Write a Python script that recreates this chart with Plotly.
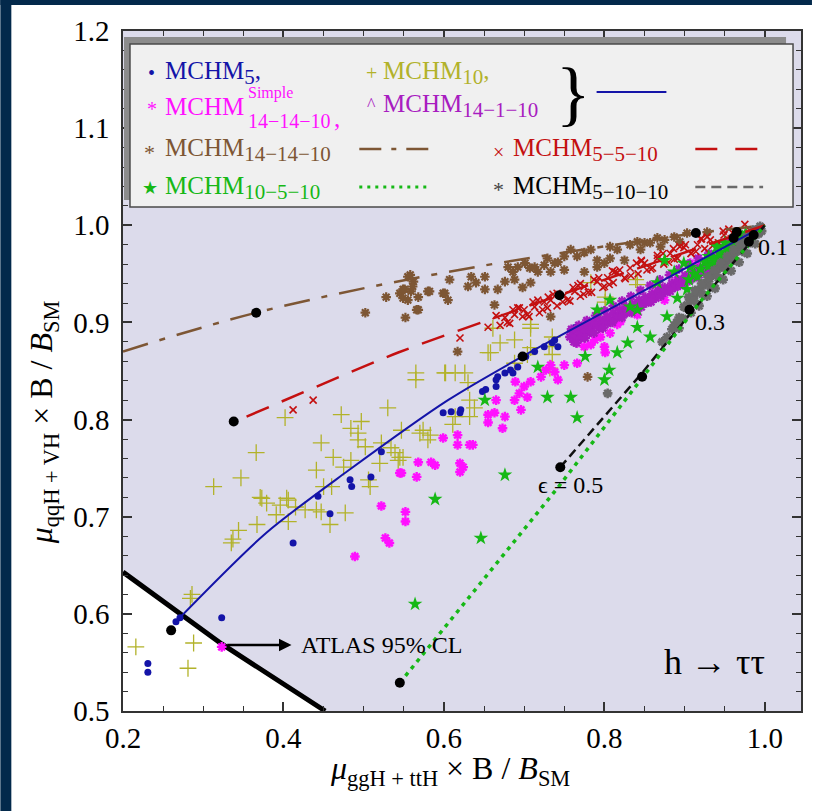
import plotly.graph_objects as go

# ---------------- data ----------------
atlas_x = [0.2, 0.323, 0.452]
atlas_y = [0.643, 0.569, 0.5]

mchm10_x = [0.216, 0.288, 0.281, 0.284, 0.286, 0.313, 0.335, 0.337, 0.344, 0.347, 0.366, 0.367, 0.371, 0.373,
            0.379, 0.391, 0.396, 0.402, 0.404, 0.406, 0.406, 0.415, 0.427, 0.441, 0.441, 0.447, 0.447, 0.450,
            0.458, 0.460, 0.462, 0.472, 0.475, 0.477, 0.484, 0.484, 0.493, 0.493, 0.497, 0.502, 0.506, 0.508,
            0.520, 0.522, 0.530, 0.534, 0.539, 0.543, 0.545, 0.547, 0.549, 0.565, 0.565, 0.570, 0.574, 0.580,
            0.583, 0.601, 0.602, 0.611, 0.614, 0.614, 0.626, 0.630, 0.632, 0.632, 0.638, 0.655, 0.658, 0.661,
            0.670, 0.688, 0.688, 0.704, 0.708, 0.708, 0.708, 0.731, 0.732, 0.735, 0.735, 0.783, 0.801, 0.801,
            0.839, 0.841]
mchm10_y = [0.566, 0.570, 0.544, 0.616, 0.620, 0.731, 0.673, 0.677, 0.686, 0.740, 0.766, 0.692, 0.720, 0.719,
            0.714, 0.702, 0.712, 0.802, 0.719, 0.717, 0.695, 0.710, 0.707, 0.707, 0.748, 0.705, 0.776, 0.731,
            0.692, 0.731, 0.761, 0.805, 0.751, 0.704, 0.758, 0.791, 0.786, 0.779, 0.798, 0.772, 0.738, 0.731,
            0.755, 0.776, 0.812, 0.771, 0.766, 0.758, 0.761, 0.789, 0.761, 0.848, 0.841, 0.786, 0.789, 0.779,
            0.784, 0.848, 0.848, 0.795, 0.848, 0.803, 0.848, 0.838, 0.820, 0.803, 0.812, 0.869, 0.869, 0.894,
            0.879, 0.882, 0.858, 0.867, 0.898, 0.894, 0.874, 0.875, 0.853, 0.885, 0.867, 0.941, 0.926, 0.921,
            0.944, 0.939]

mchm5_x = [0.231, 0.231, 0.266, 0.271, 0.323, 0.412, 0.443, 0.458, 0.483, 0.485, 0.509, 0.522, 0.599, 0.609,
           0.620, 0.621, 0.648, 0.652, 0.665, 0.665, 0.667, 0.676, 0.683, 0.686, 0.692, 0.702, 0.713, 0.725,
           0.735, 0.738, 0.742, 0.758, 0.758, 0.764]
mchm5_y = [0.549, 0.540, 0.592, 0.596, 0.596, 0.673, 0.721, 0.703, 0.738, 0.731, 0.741, 0.767, 0.807, 0.808,
           0.807, 0.810, 0.829, 0.831, 0.834, 0.841, 0.844, 0.848, 0.851, 0.848, 0.854, 0.865, 0.870, 0.875,
           0.879, 0.882, 0.875, 0.885, 0.892, 0.895]

simple_x = [0.323, 0.489, 0.522, 0.527, 0.532, 0.545, 0.547, 0.552, 0.552, 0.566, 0.568, 0.584, 0.589, 0.599,
            0.617, 0.617, 0.620, 0.624, 0.620, 0.632, 0.636, 0.655, 0.663, 0.655, 0.676, 0.673, 0.665, 0.688,
            0.694, 0.700, 0.704, 0.696, 0.689, 0.708, 0.721, 0.727, 0.733, 0.738, 0.742, 0.750, 0.766, 0.766,
            0.775, 0.783, 0.788, 0.795, 0.800, 0.801, 0.807, 0.816, 0.820, 0.841, 0.857, 0.863, 0.870, 0.875,
            0.891, 0.903, 0.901, 0.907, 0.916, 0.940]
simple_y = [0.566, 0.659, 0.711, 0.678, 0.673, 0.745, 0.745, 0.705, 0.695, 0.741, 0.756, 0.756, 0.753, 0.781,
            0.784, 0.774, 0.755, 0.751, 0.746, 0.774, 0.774, 0.805, 0.807, 0.797, 0.803, 0.791, 0.820, 0.820,
            0.827, 0.834, 0.823, 0.810, 0.839, 0.839, 0.844, 0.851, 0.856, 0.849, 0.841, 0.856, 0.858, 0.879,
            0.875, 0.877, 0.882, 0.885, 0.875, 0.869, 0.889, 0.898, 0.901, 0.908, 0.923, 0.930, 0.934, 0.923,
            0.944, 0.944, 0.947, 0.961, 0.959, 0.968]

m14110_x = [0.757, 0.760, 0.763, 0.766, 0.770, 0.773, 0.776, 0.780, 0.784, 0.787, 0.791, 0.795, 0.799, 0.803,
            0.807, 0.811, 0.815, 0.819, 0.823, 0.827, 0.831, 0.835, 0.839, 0.843, 0.847, 0.851, 0.855, 0.859,
            0.863, 0.867, 0.871, 0.875, 0.879, 0.884, 0.888, 0.892, 0.897, 0.901, 0.906, 0.910, 0.915, 0.919,
            0.924, 0.929, 0.934, 0.939, 0.944, 0.949, 0.955, 0.961,
            0.762, 0.771, 0.782, 0.793, 0.804, 0.816, 0.828, 0.840, 0.852, 0.864, 0.876, 0.888, 0.900, 0.912,
            0.925, 0.938,
            0.759, 0.768, 0.778, 0.789, 0.800, 0.811, 0.822, 0.833, 0.845, 0.857, 0.869, 0.881, 0.893, 0.905,
            0.917, 0.930, 0.943, 0.956, 0.966,
            0.765, 0.776, 0.787, 0.798, 0.810, 0.822, 0.834, 0.846, 0.858, 0.870, 0.882, 0.894, 0.906, 0.918,
            0.930, 0.942]
m14110_y = [0.885, 0.890, 0.884, 0.892, 0.889, 0.895, 0.891, 0.897, 0.894, 0.900, 0.897, 0.903, 0.900, 0.906,
            0.903, 0.910, 0.906, 0.913, 0.910, 0.916, 0.913, 0.919, 0.917, 0.923, 0.920, 0.926, 0.924, 0.929,
            0.927, 0.933, 0.930, 0.936, 0.934, 0.940, 0.937, 0.944, 0.941, 0.948, 0.945, 0.952, 0.950, 0.956,
            0.955, 0.960, 0.959, 0.965, 0.964, 0.970, 0.972, 0.978,
            0.880, 0.884, 0.890, 0.894, 0.899, 0.905, 0.910, 0.915, 0.920, 0.925, 0.931, 0.936, 0.941, 0.946,
            0.952, 0.958,
            0.893, 0.897, 0.902, 0.907, 0.912, 0.917, 0.922, 0.927, 0.933, 0.938, 0.944, 0.949, 0.955, 0.960,
            0.966, 0.971, 0.977, 0.983, 0.987,
            0.879, 0.884, 0.889, 0.894, 0.900, 0.905, 0.910, 0.916, 0.921, 0.927, 0.932, 0.938, 0.943, 0.949,
            0.954, 0.960]

m141410_x = [0.502, 0.528, 0.545, 0.549, 0.549, 0.555, 0.559, 0.562, 0.558, 0.568, 0.552, 0.580, 0.599, 0.555,
             0.561, 0.551, 0.568, 0.566, 0.582, 0.601, 0.605, 0.607, 0.630, 0.634, 0.640, 0.651, 0.651, 0.663,
             0.680, 0.686, 0.688, 0.692, 0.701, 0.707, 0.713, 0.717, 0.725, 0.729, 0.738, 0.742, 0.750, 0.758,
             0.766, 0.775, 0.783, 0.791, 0.800, 0.807, 0.807, 0.816, 0.832, 0.841, 0.850, 0.857, 0.866, 0.875,
             0.887, 0.903, 0.928, 0.733, 0.779, 0.667, 0.676, 0.698, 0.708, 0.733, 0.750, 0.775, 0.791, 0.825,
             0.845, 0.870, 0.894, 0.617]
m141410_y = [0.910, 0.926, 0.930, 0.934, 0.925, 0.923, 0.932, 0.942, 0.949, 0.913, 0.905, 0.932, 0.930, 0.947,
             0.937, 0.934, 0.926, 0.913, 0.932, 0.930, 0.923, 0.944, 0.937, 0.947, 0.941, 0.947, 0.934, 0.918,
             0.957, 0.952, 0.944, 0.957, 0.961, 0.956, 0.957, 0.952, 0.959, 0.966, 0.961, 0.962, 0.968, 0.975,
             0.968, 0.972, 0.975, 0.964, 0.961, 0.966, 0.978, 0.975, 0.980, 0.983, 0.982, 0.982, 0.987, 0.985,
             0.988, 0.992, 0.993, 0.906, 0.844, 0.934, 0.942, 0.936, 0.941, 0.952, 0.954, 0.952, 0.957, 0.964,
             0.975, 0.978, 0.983, 0.870]

m5510_x = [0.412, 0.437, 0.620, 0.655, 0.676, 0.688, 0.700, 0.713, 0.725, 0.733, 0.750, 0.763, 0.775, 0.791,
           0.804, 0.816, 0.832, 0.850, 0.866, 0.882, 0.899, 0.916, 0.932, 0.949, 0.682, 0.706, 0.719, 0.741,
           0.757, 0.770, 0.784, 0.798, 0.811, 0.825, 0.842, 0.858, 0.874, 0.891, 0.908, 0.925, 0.941, 0.958,
           0.694, 0.730, 0.770, 0.810, 0.846, 0.886, 0.920, 0.966,
           0.665, 0.679, 0.692, 0.704, 0.717, 0.729, 0.741, 0.754, 0.767, 0.780, 0.793, 0.806, 0.819, 0.833,
           0.846, 0.860, 0.873, 0.887, 0.901, 0.914, 0.928, 0.942, 0.955, 0.969, 0.982,
           0.670, 0.686, 0.698, 0.711, 0.723, 0.736, 0.748, 0.761, 0.774, 0.787, 0.800, 0.813, 0.826, 0.840,
           0.853, 0.866, 0.880, 0.894, 0.908, 0.921, 0.935, 0.948, 0.962, 0.975]
m5510_y = [0.810, 0.820, 0.884, 0.895, 0.905, 0.908, 0.913, 0.916, 0.921, 0.923, 0.928, 0.932, 0.937, 0.942,
           0.946, 0.951, 0.956, 0.961, 0.966, 0.971, 0.977, 0.980, 0.985, 0.990, 0.899, 0.906, 0.910, 0.917,
           0.922, 0.927, 0.931, 0.936, 0.941, 0.946, 0.950, 0.955, 0.960, 0.966, 0.971, 0.976, 0.980, 0.986,
           0.915, 0.926, 0.940, 0.953, 0.964, 0.976, 0.986, 0.993,
           0.907, 0.900, 0.915, 0.908, 0.923, 0.915, 0.930, 0.923, 0.938, 0.931, 0.946, 0.939, 0.954, 0.948,
           0.963, 0.956, 0.971, 0.965, 0.980, 0.973, 0.988, 0.982, 0.996, 0.990, 0.994,
           0.897, 0.913, 0.906, 0.921, 0.913, 0.929, 0.921, 0.936, 0.929, 0.944, 0.937, 0.952, 0.945, 0.961,
           0.954, 0.969, 0.962, 0.978, 0.971, 0.986, 0.979, 0.994, 0.988, 1.001]

m10510_x = [0.564, 0.589, 0.646, 0.676, 0.651, 0.717, 0.729, 0.758, 0.766, 0.776, 0.800, 0.806, 0.816, 0.829,
            0.841, 0.857, 0.878, 0.891, 0.903, 0.916, 0.907, 0.930, 0.940, 0.950, 0.961, 0.791, 0.807, 0.832,
            0.841, 0.866, 0.875, 0.887, 0.899, 0.945, 0.955, 0.966, 0.972, 0.935, 0.958, 0.976,
            0.920, 0.925, 0.930, 0.935, 0.940, 0.944, 0.948, 0.952, 0.957, 0.962, 0.966, 0.970, 0.975, 0.980,
            0.912, 0.905, 0.985]
m10510_y = [0.610, 0.718, 0.678, 0.743, 0.820, 0.854, 0.823, 0.823, 0.802, 0.865, 0.841, 0.851, 0.869, 0.879,
            0.895, 0.885, 0.906, 0.925, 0.934, 0.947, 0.957, 0.968, 0.978, 0.982, 0.985, 0.913, 0.923, 0.916,
            0.913, 0.941, 0.964, 0.952, 0.961, 0.970, 0.975, 0.980, 0.988, 0.960, 0.970, 0.992,
            0.955, 0.962, 0.958, 0.967, 0.963, 0.972, 0.968, 0.976, 0.973, 0.981, 0.977, 0.984, 0.982, 0.989,
            0.950, 0.944, 0.992]

m51010_x = [0.804, 0.872, 0.878, 0.899, 0.903, 0.907, 0.911, 0.915, 0.919, 0.923, 0.927, 0.931, 0.935, 0.939,
            0.943, 0.947, 0.951, 0.955, 0.959, 0.963, 0.967, 0.971, 0.975, 0.979, 0.983, 0.987, 0.991, 0.994,
            0.905, 0.913, 0.921, 0.929, 0.937, 0.945, 0.953, 0.961, 0.969, 0.977, 0.985, 0.893, 0.887,
            0.898, 0.902, 0.908, 0.912, 0.918, 0.922, 0.928, 0.932, 0.938, 0.942, 0.948, 0.952, 0.958, 0.962,
            0.968, 0.972, 0.978, 0.982, 0.988, 0.992, 0.996, 0.884, 0.890, 0.893]
m51010_y = [0.827, 0.880, 0.885, 0.916, 0.918, 0.924, 0.926, 0.931, 0.934, 0.938, 0.941, 0.945, 0.949, 0.952,
            0.956, 0.958, 0.962, 0.965, 0.969, 0.972, 0.975, 0.979, 0.982, 0.986, 0.989, 0.993, 0.996, 0.999,
            0.926, 0.933, 0.940, 0.947, 0.954, 0.961, 0.968, 0.975, 0.981, 0.988, 0.995, 0.905, 0.897,
            0.904, 0.915, 0.910, 0.922, 0.917, 0.929, 0.927, 0.937, 0.935, 0.946, 0.944, 0.955, 0.953, 0.964,
            0.962, 0.973, 0.971, 0.982, 0.981, 0.991, 0.994, 0.893, 0.900, 0.894]

# theory curves
blue_x = [0.266, 0.378, 0.480, 0.605, 0.698, 0.850, 1.0]
blue_y = [0.592, 0.683, 0.747, 0.820, 0.865, 0.933, 1.0]
brown_x = [0.2, 0.366, 0.605, 0.916, 1.0]
brown_y = [0.870, 0.910, 0.952, 0.992, 1.0]
red_x = [0.354, 0.543, 0.744, 1.0]
red_y = [0.803, 0.869, 0.928, 1.0]
black_x = [0.745, 0.847, 0.906, 1.0]
black_y = [0.751, 0.848, 0.908, 1.0]
green_x = [0.545, 0.742, 0.85, 0.92, 1.0]
green_y = [0.529, 0.730, 0.846, 0.922, 1.0]

eps_x = [0.260, 0.366, 0.338, 0.745, 0.545, 0.698, 0.744, 0.914, 0.906, 0.847, 0.965, 0.961, 0.986, 0.980]
eps_y = [0.583, 0.910, 0.798, 0.751, 0.529, 0.865, 0.928, 0.992, 0.913, 0.844, 0.993, 0.987, 0.990, 0.983]

x_ticks = [0.2, 0.4, 0.6, 0.8, 1.0]
x_ticktext = ["0.2", "0.4", "0.6", "0.8", "1.0"]
y_ticks = [0.5, 0.6, 0.7, 0.8, 0.9, 1.0, 1.1, 1.2]
y_ticktext = ["0.5", "0.6", "0.7", "0.8", "0.9", "1.0", "1.1", "1.2"]

XMIN, XMAX, YMIN, YMAX = 0.2, 1.045, 0.5, 1.2

# colours
C_BLUE = "#1414a8"
C_OLIVE = "#b2b22a"
C_PINK = "#ff10ff"
C_PURPLE = "#a81cc0"
C_BROWN = "#7d5634"
C_RED = "#c41010"
C_GREEN = "#16b816"
C_GRAY = "#6a6a6a"
LAV = "#dcdbeb"
NAVY = "#03294b"
SERIF = "Liberation Serif"

fig = go.Figure()

# lavender allowed region (above ATLAS line)
reg_x = atlas_x + [XMAX, XMAX, XMIN, atlas_x[0]]
reg_y = atlas_y + [YMIN, YMAX, YMAX, atlas_y[0]]
fig.add_trace(go.Scatter(x=reg_x, y=reg_y, fill="toself", fillcolor=LAV, mode="lines",
                         line=dict(width=0), hoverinfo="skip"))
fig.add_trace(go.Scatter(x=atlas_x, y=atlas_y, mode="lines", line=dict(color="black", width=5)))


def pts(x, y, sym, color, size, lw=1.5):
    fig.add_trace(go.Scatter(x=x, y=y, mode="markers",
                             marker=dict(symbol=sym, color=color, size=size,
                                         line=dict(color=color, width=lw))))


pts(mchm10_x, mchm10_y, "cross-thin-open", C_OLIVE, 12, 1.3)
pts(mchm5_x, mchm5_y, "circle", C_BLUE, 7, 0)
pts(simple_x, simple_y, "asterisk-open", C_PINK, 8, 2.4)
pts(m14110_x, m14110_y, "asterisk-open", C_PURPLE, 8, 2.4)
pts(m141410_x, m141410_y, "asterisk-open", C_BROWN, 8, 2.2)
pts(m5510_x, m5510_y, "x-thin-open", C_RED, 7, 1.6)
pts(m10510_x, m10510_y, "star", C_GREEN, 11, 0)
pts(m51010_x, m51010_y, "asterisk-open", C_GRAY, 8, 2.6)

fig.add_trace(go.Scatter(x=blue_x, y=blue_y, mode="lines",
                         line=dict(color=C_BLUE, width=2, shape="spline", smoothing=0.8)))
fig.add_trace(go.Scatter(x=brown_x, y=brown_y, mode="lines",
                         line=dict(color=C_BROWN, width=2.5, dash="26px,12px,6px,12px", shape="spline")))
fig.add_trace(go.Scatter(x=red_x, y=red_y, mode="lines",
                         line=dict(color=C_RED, width=2.5, dash="24px,14px", shape="spline", smoothing=0.6)))
fig.add_trace(go.Scatter(x=black_x, y=black_y, mode="lines",
                         line=dict(color="#111111", width=2.5, dash="9px,5px")))
fig.add_trace(go.Scatter(x=green_x, y=green_y, mode="lines",
                         line=dict(color=C_GREEN, width=3.5, dash="4px,5px")))
fig.add_trace(go.Scatter(x=eps_x, y=eps_y, mode="markers", marker=dict(color="black", size=10)))

# ---------------- layout ----------------
L, R, T, B = 123, 11, 31, 100
W, H = 814, 811
PW, PH = W - L - R, H - T - B


def px(x):
    return (x - L) / PW


def py(y):
    return (H - B - y) / PH


shapes = [
    # navy frame bands
    dict(type="rect", xref="paper", yref="paper", x0=px(0), x1=px(11), y0=py(H), y1=py(0),
         fillcolor=NAVY, line=dict(width=0), layer="above"),
    dict(type="rect", xref="paper", yref="paper", x0=px(0), x1=px(W), y0=py(5), y1=py(0),
         fillcolor=NAVY, line=dict(width=0), layer="above"),
    # legend box shadow (top/left) + box
    dict(type="rect", xref="paper", yref="paper", x0=px(124), x1=px(788), y0=py(200), y1=py(37),
         fillcolor="#8c8c8c", line=dict(width=0), layer="above"),
    dict(type="rect", xref="paper", yref="paper", x0=px(130), x1=px(795), y0=py(207), y1=py(44),
         fillcolor="#f0f0f0", line=dict(color="#4a4a4a", width=1.5), layer="above"),
    # legend sample lines
    dict(type="line", xref="paper", yref="paper", x0=px(598), x1=px(668), y0=py(92), y1=py(92),
         line=dict(color=C_BLUE, width=2), layer="above"),
    dict(type="line", xref="paper", yref="paper", x0=px(360), x1=px(432), y0=py(149), y1=py(149),
         line=dict(color=C_BROWN, width=2.5, dash="22px,10px,5px,10px"), layer="above"),
    dict(type="line", xref="paper", yref="paper", x0=px(697), x1=px(765), y0=py(149), y1=py(149),
         line=dict(color=C_RED, width=2.5, dash="22px,18px"), layer="above"),
    dict(type="line", xref="paper", yref="paper", x0=px(360), x1=px(432), y0=py(187), y1=py(187),
         line=dict(color=C_GREEN, width=3, dash="3px,5px"), layer="above"),
    dict(type="line", xref="paper", yref="paper", x0=px(697), x1=px(765), y0=py(187), y1=py(187),
         line=dict(color=C_GRAY, width=2.5, dash="10px,6px"), layer="above"),
]

annotations = []


def txt(x, y, text, color="black", size=24, xanchor="left", family=SERIF, yanchor="middle"):
    annotations.append(dict(xref="paper", yref="paper", x=px(x), y=py(y), text=text, showarrow=False,
                            xanchor=xanchor, yanchor=yanchor, font=dict(family=family, size=size, color=color)))


def sub(s, size=21):
    return "<sub><span style='font-size:%dpx'>%s</span></sub>" % (size, s)


# legend glyphs and labels
txt(152, 73, "•", C_BLUE, 20, "center")
txt(163, 73, "MCHM" + sub("5") + ",", C_BLUE, 25)
txt(372, 73, "+", C_OLIVE, 20, "center")
txt(382, 73, "MCHM" + sub("10") + ",", C_OLIVE, 25)
txt(152, 109, "*", C_PINK, 20, "center")
txt(163, 106, "MCHM", C_PINK, 25)
txt(246, 93, "Simple", C_PINK, 16)
txt(246, 121, "14−14−10", C_PINK, 20)
txt(333, 118, ",", C_PINK, 25)
txt(372, 105, "^", C_PURPLE, 18, "center")
txt(382, 106, "MCHM" + sub("14−1−10"), C_PURPLE, 25)
txt(575, 93, "}", "black", 72, "center")
txt(150, 152, "*", C_BROWN, 22, "center")
txt(163, 150, "MCHM" + sub("14−14−10"), C_BROWN, 25)
txt(500, 152, "×", C_RED, 20, "center")
txt(512, 150, "MCHM" + sub("5−5−10"), C_RED, 25)
txt(150, 188, "★", C_GREEN, 18, "center", "DejaVu Sans")
txt(163, 188, "MCHM" + sub("10−5−10"), C_GREEN, 25)
txt(500, 190, "*", "#444444", 22, "center")
txt(512, 188, "MCHM" + sub("5−10−10"), "black", 25)

# axis titles
txt(451, 771, "<i>μ</i><sub>ggH + ttH</sub> × B / <i>B</i><sub>SM</sub>", "black", 32, "center")
annotations.append(dict(xref="paper", yref="paper", x=px(44), y=py(422), textangle=-90,
                        text="<i>μ</i><sub>qqH + VH</sub> × B / <i>B</i><sub>SM</sub>", showarrow=False,
                        xanchor="center", yanchor="middle", font=dict(family=SERIF, size=32, color="black")))

# in-plot labels (data coords)
for x, y, t, s in [(1.010, 0.978, "0.1", 24), (0.932, 0.900, "0.3", 24), (0.758, 0.733, "ϵ = 0.5", 24),
                   (0.937, 0.550, "h → ττ", 36)]:
    annotations.append(dict(x=x, y=y, text=t, showarrow=False, xanchor="center", yanchor="middle",
                            font=dict(family=SERIF, size=s, color="black")))
annotations.append(dict(x=0.419, y=0.568, text="ATLAS 95% CL", showarrow=False, xanchor="left",
                        yanchor="middle", font=dict(family=SERIF, size=24, color="black")))
annotations.append(dict(x=0.410, y=0.568, ax=0.328, ay=0.568, axref="x", ayref="y", text="",
                        showarrow=True, arrowhead=2, arrowsize=1, arrowwidth=2.5, arrowcolor="black"))

axis_common = dict(showgrid=False, zeroline=False, ticks="inside", ticklen=9, tickwidth=1.5,
                   tickcolor="#333333", showline=True, linecolor="#333333", linewidth=1.5,
                   mirror="allticks", tickfont=dict(family=SERIF, size=29, color="black"))

fig.update_layout(
    width=W, height=H, margin=dict(l=L, r=R, t=T, b=B, pad=0),
    paper_bgcolor="white", plot_bgcolor="white", showlegend=False,
    xaxis=dict(range=[XMIN, XMAX], tickvals=x_ticks, ticktext=x_ticktext, ticklabelstandoff=0,
               minor=dict(ticks="inside", ticklen=5, tickwidth=1.2, tickcolor="#333333", dtick=0.05, tick0=0.2),
               **axis_common),
    yaxis=dict(range=[YMIN, YMAX], tickvals=y_ticks, ticktext=y_ticktext, ticklabelstandoff=6,
               minor=dict(ticks="inside", ticklen=5, tickwidth=1.2, tickcolor="#333333", dtick=0.02, tick0=0.5),
               **axis_common),
    shapes=shapes, annotations=annotations,
)

fig.write_html("out.html")
